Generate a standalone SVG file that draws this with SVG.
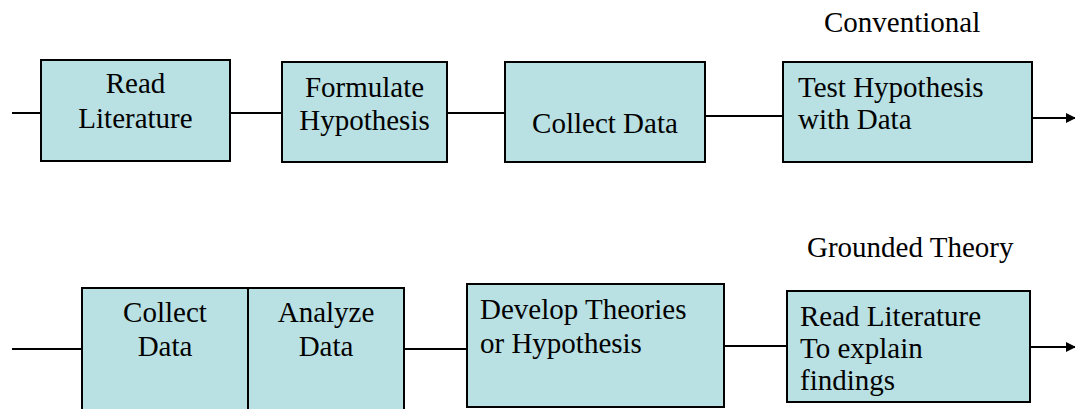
<svg xmlns="http://www.w3.org/2000/svg" width="1075" height="409" viewBox="0 0 1075 409">
<style>
.box{fill:#B9E0E3;stroke:#000;stroke-width:2}
.t{font-family:"Liberation Serif","Times New Roman",serif;font-size:29px;fill:#000}
.c{text-anchor:middle}
.ln{stroke:#000;stroke-width:2;fill:none}
</style>
<defs>
<marker id="ah" markerWidth="10" markerHeight="10" refX="9" refY="5" orient="auto" markerUnits="userSpaceOnUse">
<path d="M0,0 L10,5 L0,10 Z" fill="#000"/>
</marker>
<clipPath id="clip6"><rect x="787" y="291" width="243" height="111"/></clipPath>
</defs>
<rect width="1075" height="409" fill="#fff"/>

<g id="label-conventional"><text class="t" x="824" y="32">Conventional</text></g>
<g id="label-grounded"><text class="t" x="807" y="257">Grounded Theory</text></g>

<g id="connectors">
<line class="ln" x1="12" y1="113" x2="41" y2="113"/>
<line class="ln" x1="230" y1="113" x2="282" y2="113"/>
<line class="ln" x1="447" y1="113" x2="505" y2="113"/>
<line class="ln" x1="705" y1="116" x2="783" y2="116"/>
<line class="ln" x1="1032" y1="118" x2="1075" y2="118" marker-end="url(#ah)"/>
<line class="ln" x1="12" y1="349" x2="82" y2="349"/>
<line class="ln" x1="404" y1="349" x2="467" y2="349"/>
<line class="ln" x1="724" y1="346" x2="787" y2="346"/>
<line class="ln" x1="1030" y1="347" x2="1075" y2="347" marker-end="url(#ah)"/>
</g>

<g id="n-read-literature">
<rect class="box" x="41" y="60" width="189" height="101"/>
<text class="t c" x="135.5" y="93">Read</text>
<text class="t c" x="135.5" y="128">Literature</text>
</g>
<g id="n-formulate">
<rect class="box" x="282" y="62" width="165" height="100"/>
<text class="t c" x="364.5" y="97">Formulate</text>
<text class="t c" x="364.5" y="130">Hypothesis</text>
</g>
<g id="n-collect-top">
<rect class="box" x="505" y="62" width="200" height="100"/>
<text class="t c" x="605" y="133">Collect Data</text>
</g>
<g id="n-test">
<rect class="box" x="783" y="62" width="249" height="100"/>
<text class="t" x="798" y="97">Test Hypothesis</text>
<text class="t" x="798" y="129">with Data</text>
</g>

<g id="n-collect-bottom">
<rect class="box" x="82" y="288" width="166" height="140"/>
<text class="t c" x="165" y="322">Collect</text>
<text class="t c" x="165" y="356">Data</text>
</g>
<g id="n-analyze">
<rect class="box" x="248" y="288" width="156" height="140"/>
<text class="t c" x="326" y="322">Analyze</text>
<text class="t c" x="326" y="356">Data</text>
</g>
<g id="n-develop">
<rect class="box" x="467" y="284" width="257" height="123"/>
<text class="t" x="480" y="319">Develop Theories</text>
<text class="t" x="480" y="353">or Hypothesis</text>
</g>
<g id="n-read-explain">
<rect class="box" x="787" y="291" width="243" height="111"/>
<g clip-path="url(#clip6)">
<text class="t" x="800" y="326">Read Literature</text>
<text class="t" x="800" y="358">To explain</text>
<text class="t" x="800" y="390">findings</text>
</g>
<rect x="787" y="291" width="243" height="111" fill="none" stroke="#000" stroke-width="2"/>
</g>
</svg>
